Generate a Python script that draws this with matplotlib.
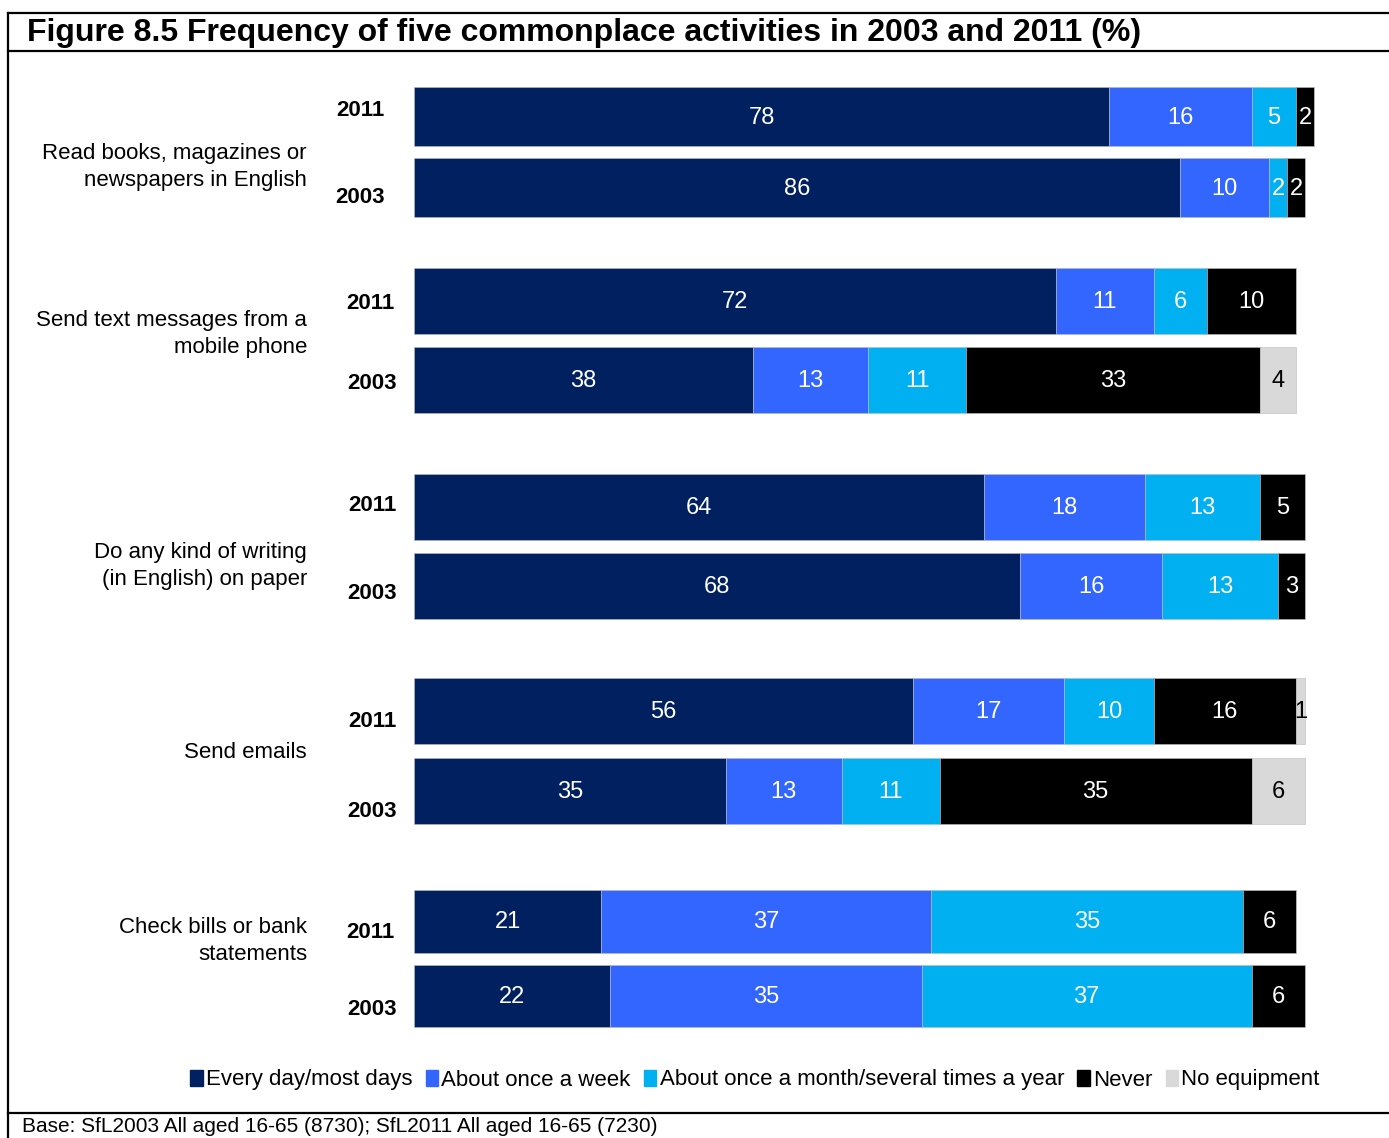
import matplotlib.pyplot as plt
import numpy as np

plt.rcParams['font.family'] = ['Liberation Sans', 'DejaVu Sans']

activities = ['Read books, magazines or\nnewspapers in English',
              'Send text messages from a\nmobile phone',
              'Do any kind of writing\n(in English) on paper',
              'Send emails',
              'Check bills or bank\nstatements']
years = ['2011', '2003']
series = ['Every day/most days', 'About once a week',
          'About once a month/several times a year', 'Never', 'No equipment']
colors = ['#002060', '#3366FF', '#00B0F0', '#000000', '#D9D9D9']
text_colors = ['white', 'white', 'white', 'white', 'black']

# rows: activity x year (2011, 2003), columns: series
every_day = [78, 86, 72, 38, 64, 68, 56, 35, 21, 22]
once_week = [16, 10, 11, 13, 18, 16, 17, 13, 37, 35]
once_month = [5, 2, 6, 11, 13, 13, 10, 11, 35, 37]
never = [2, 2, 10, 33, 5, 3, 16, 35, 6, 6]
no_equipment = [0, 0, 0, 4, 0, 0, 1, 6, 0, 0]

data = np.array([every_day, once_week, once_month, never, no_equipment])

# layout (pixel rows, top-down)
bar_centers = [116.5, 187.5, 301, 380, 507, 586, 711, 791, 921, 996]
bar_heights = [59, 59, 66, 66, 66, 66, 66, 66, 63, 62]
year_y = [110, 197, 303, 383, 505, 593, 721, 811, 932, 1009]
year_x = [385, 385, 395, 397, 397, 397, 397, 397, 395, 397]
label_y = [167, 334, 566, 752, 941]

fig = plt.figure(figsize=(13.89, 11.38), dpi=100)
W, H = 1389, 1138

def hline(y, x0=8, x1=W):
    fig.add_artist(plt.Line2D([x0 / W, x1 / W], [1 - y / H, 1 - y / H], color='black', lw=1.6))

hline(12.5)
hline(50.5)
hline(1112.5)
fig.add_artist(plt.Line2D([8 / W, 8 / W], [1 - 12.5 / H, 0], color='black', lw=1.6))

fig.text(27 / W, 1 - 33 / H, 'Figure 8.5 Frequency of five commonplace activities in 2003 and 2011 (%)',
         fontsize=23, fontweight='bold', va='center', ha='left')

# axes across the whole figure, data x scaled so 100% ends near px 1305
ax = fig.add_axes([0, 0, 1, 1])
px = 8.91
x0 = 414
ax.set_xlim(-x0 / px, (W - x0) / px)
ax.set_ylim(H, 0)
ax.axis('off')

ypos = np.array(bar_centers)
left = np.zeros(len(ypos))
for s in range(len(series)):
    vals = data[s]
    ax.barh(ypos, vals, left=left, height=bar_heights, color=colors[s],
            edgecolor='#BBBBBB', linewidth=0.4)
    for y, l, v in zip(ypos, left, vals):
        if v > 0:
            ax.text(l + v / 2, y + 1, str(v), ha='center', va='center',
                    color=text_colors[s], fontsize=17)
    left += vals

for g, act in enumerate(activities):
    ax.text((307 - x0) / px, label_y[g], act, ha='right', va='center',
            fontsize=16, linespacing=1.4)
for i in range(len(ypos)):
    ax.text((year_x[i] - x0) / px, year_y[i], years[i % 2], ha='right',
            va='center', fontsize=16, fontweight='bold')

handles = [plt.Rectangle((0, 0), 1, 1, color=c) for c in colors]
fig.legend(handles, series, loc='center', bbox_to_anchor=(755 / W, 1 - 1080 / H),
           ncol=5, frameon=False, fontsize=16, handlelength=0.55, handleheight=0.7,
           handletextpad=0.15, columnspacing=0.6)

fig.text(22 / W, 1 - 1126 / H, 'Base: SfL2003 All aged 16-65 (8730); SfL2011 All aged 16-65 (7230)',
         fontsize=15, va='center', ha='left')

fig.savefig('out.png', dpi=100)
